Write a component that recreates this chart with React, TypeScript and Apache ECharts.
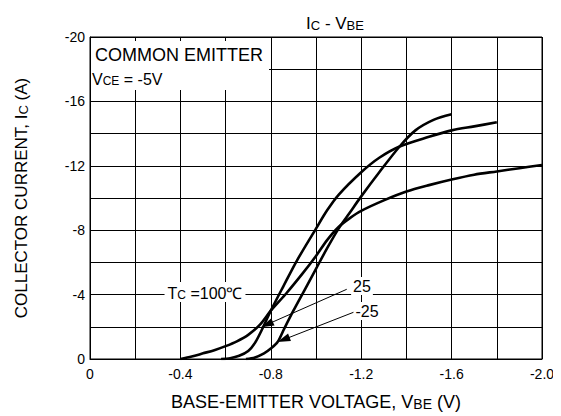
import React, { useEffect, useRef } from "react";
import * as echarts from "echarts";

// Tc = 100 ℃
const vbe100 = [-0.4, -0.45, -0.5, -0.55, -0.6, -0.65, -0.7, -0.75, -0.8, -0.87, -0.94, -1.0, -1.05, -1.1, -1.15, -1.2, -1.3, -1.4, -1.5, -1.6, -1.7, -1.8, -1.9, -2.0];
const ic100 = [0, -0.15, -0.35, -0.55, -0.8, -1.1, -1.5, -2.1, -3.0, -4.1, -5.3, -6.4, -7.4, -8.2, -8.75, -9.2, -9.85, -10.4, -10.8, -11.15, -11.45, -11.65, -11.85, -12.05];
// Tc = 25 ℃
const vbe25 = [-0.58, -0.62, -0.66, -0.7, -0.73, -0.76, -0.8, -0.855, -0.915, -1.0, -1.05, -1.1, -1.2, -1.28, -1.37, -1.5, -1.6, -1.7, -1.8];
const ic25 = [0, -0.05, -0.2, -0.5, -1.0, -1.8, -3.0, -4.5, -6.1, -8.1, -9.25, -10.2, -11.6, -12.5, -13.2, -13.8, -14.2, -14.45, -14.7];
// Tc = -25 ℃
const vbeM25 = [-0.69, -0.73, -0.77, -0.8, -0.83, -0.86, -0.9, -0.95, -1.0, -1.05, -1.1, -1.15, -1.2, -1.28, -1.37, -1.44, -1.52, -1.6];
const icM25 = [0, -0.1, -0.35, -0.65, -1.05, -1.9, -3.0, -4.3, -5.6, -6.9, -8.1, -9.1, -10.1, -11.6, -13.2, -14.2, -14.85, -15.2];

// annotation arrows: [label end, arrow end] in data coordinates
const arrow25 = [[-1.136, -4.33], [-0.783, -2.14]];
const arrowM25 = [[-1.173, -2.94], [-0.856, -1.2]];

const FONT = "'Liberation Sans', Arial, sans-serif";

const zip = (xs: number[], ys: number[]) => xs.map((x, i) => [x, ys[i]]);

const rich = (big: number, small: number) => ({
  b: { fontSize: big, fontFamily: FONT, color: "#000", fontWeight: "normal", verticalAlign: "bottom", lineHeight: big + 2 },
  s: { fontSize: small, fontFamily: FONT, color: "#000", fontWeight: "normal", verticalAlign: "bottom", lineHeight: small + 4 },
});

export default function App() {
  const ref = useRef<HTMLDivElement>(null);
  useEffect(() => {
    if (!ref.current) return;
    const chart = echarts.init(ref.current, null, { renderer: "svg" });
    const lineStyle = { color: "#000", width: 2.6 };
    const arrowItem = (a: number[][]) => [
      { coord: a[0], symbol: "none" },
      { coord: a[1], symbol: "triangle", symbolSize: [8, 13] },
    ];
    const curve = (name: string, xs: number[], ys: number[], extra: any = {}) => ({
      name,
      type: "line",
      data: zip(xs, ys),
      smooth: 0.3,
      showSymbol: false,
      symbol: "none",
      lineStyle,
      z: 3,
      ...extra,
    });
    chart.setOption({
      animation: false,
      backgroundColor: "#fff",
      textStyle: { fontFamily: FONT, color: "#000" },
      title: {
        text: "{b|I}{s|C}{b| - V}{s|BE}",
        left: 330,
        textAlign: "center",
        top: 8,
        textStyle: { fontWeight: "normal", rich: rich(17, 13) },
      },
      grid: { left: 90, right: 19, top: 37, bottom: 57, show: true, borderColor: "#000", borderWidth: 1 },
      xAxis: {
        type: "value",
        min: -2,
        max: 0,
        interval: 0.2,
        inverse: true,
        axisLine: { lineStyle: { color: "#000", width: 1 } },
        axisTick: { show: false },
        splitLine: { show: true, lineStyle: { color: "#000", width: 1 } },
        axisLabel: {
          margin: 8,
          fontSize: 14,
          color: "#000",
          fontFamily: FONT,
          formatter: (v: number) => {
            const r = Math.round(v * 10);
            if (r % 4 !== 0) return "";
            return r === 0 ? "0" : (r / 10).toFixed(1);
          },
        },
        name: "{b|BASE-EMITTER VOLTAGE, V}{s|BE}{b| (V)}",
        nameLocation: "middle",
        nameGap: 32,
        nameTextStyle: { rich: rich(18, 14) },
      },
      yAxis: {
        type: "value",
        min: -20,
        max: 0,
        interval: 2,
        inverse: true,
        axisLine: { lineStyle: { color: "#000", width: 1 } },
        axisTick: { show: false },
        splitLine: { show: true, lineStyle: { color: "#000", width: 1 } },
        axisLabel: {
          margin: 5,
          fontSize: 14,
          color: "#000",
          fontFamily: FONT,
          formatter: (v: number) => {
            const r = Math.round(v);
            return r % 4 === 0 ? String(r) : "";
          },
        },
        name: "{b|COLLECTOR CURRENT, I}{s|C}{b| (A)}",
        nameLocation: "middle",
        nameRotate: 90,
        nameGap: 60,
        nameTextStyle: { rich: rich(17, 13) },
      },
      series: [
        curve("100", vbe100, ic100),
        curve("25", vbe25, ic25, {
          markLine: {
            silent: true,
            symbol: ["none", "triangle"],
            label: { show: false },
            lineStyle: { color: "#000", width: 1, type: "solid" },
            itemStyle: { color: "#000" },
            emphasis: { disabled: true },
            data: [arrowItem(arrow25), arrowItem(arrowM25)],
          },
        }),
        curve("-25", vbeM25, icM25),
      ],
      graphic: [
        { type: "rect", z: 50, shape: { x: 91, y: 41, width: 178, height: 49 }, style: { fill: "#fff" } },
        {
          type: "text",
          z: 51,
          x: 95,
          y: 55,
          style: { text: "COMMON EMITTER", font: `18px ${FONT}`, fill: "#000", verticalAlign: "middle" },
        },
        {
          type: "text",
          z: 51,
          x: 92,
          y: 78,
          style: {
            text: "{b|V}{s|CE}{b| = -5V}",
            verticalAlign: "middle",
            rich: rich(16, 12),
          },
        },
        {
          type: "text",
          z: 51,
          x: 205,
          y: 292,
          style: {
            text: "{b|T}{s|C}{b| =100℃}",
            align: "center",
            verticalAlign: "middle",
            backgroundColor: "#fff",
            padding: [1, 3, 1, 3],
            rich: rich(16, 12),
          },
        },
        {
          type: "text",
          z: 51,
          x: 362,
          y: 286,
          style: { text: "25", font: `16px ${FONT}`, fill: "#000", align: "center", verticalAlign: "middle", backgroundColor: "#fff", padding: [1, 2, 1, 2] },
        },
        {
          type: "text",
          z: 51,
          x: 367,
          y: 311,
          style: { text: "-25", font: `16px ${FONT}`, fill: "#000", align: "center", verticalAlign: "middle", backgroundColor: "#fff", padding: [1, 2, 1, 2] },
        },
      ],
    });
    return () => chart.dispose();
  }, []);
  return <div ref={ref} style={{ width: 561, height: 416, marginLeft: -8, marginTop: -8 }} />;
}
